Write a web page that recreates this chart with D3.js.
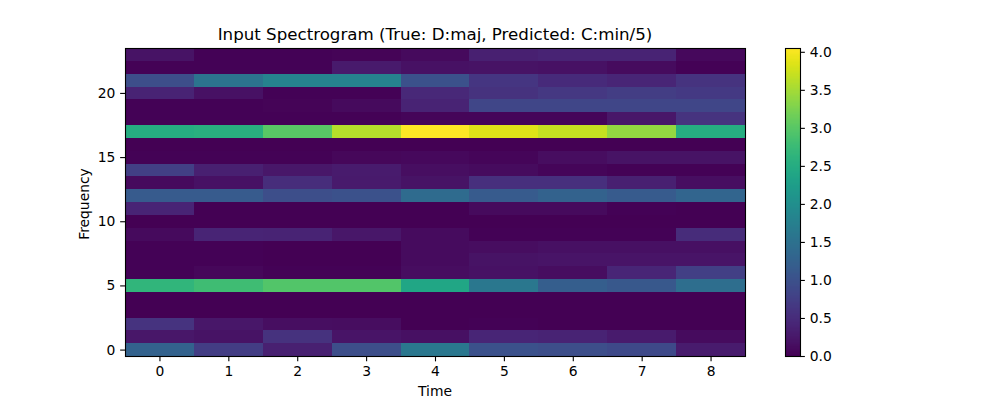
<!DOCTYPE html>
<meta charset="utf-8">
<script src="https://d3js.org/d3.v7.min.js"></script>
<style>
  html, body { margin: 0; padding: 0; background: #fff; }
  svg { display: block; }
  text { font-family: "DejaVu Sans", sans-serif; fill: #000; }
</style>
<div id="my_dataviz"></div>
<script>

    // time steps along the x axis, frequency bins 0..23
    const times = [0, 1, 2, 3, 4, 5, 6, 7, 8];
    const xTicks = [0, 1, 2, 3, 4, 5, 6, 7, 8];
    const yTicks = [0, 5, 10, 15, 20];
    const colorTicks = [0, 0.5, 1, 1.5, 2, 2.5, 3, 3.5, 4];
    const colorMax = 4.05;

    // one list per frequency bin
    const freq0 = [1.25, 0.72, 0.35, 0.95, 1.6, 1.0, 0.95, 0.9, 0.3];
    const freq1 = [0.25, 0.2, 0.58, 0.22, 0.17, 0.42, 0.38, 0.3, 0.12];
    const freq2 = [0.6, 0.25, 0.15, 0.14, 0.01, 0.02, 0.01, 0.01, 0.01];
    const freq3 = [0.01, 0.01, 0.01, 0.01, 0.01, 0.01, 0.01, 0.01, 0.01];
    const freq4 = [0.01, 0.01, 0.01, 0.01, 0.01, 0.01, 0.01, 0.01, 0.01];
    const freq5 = [2.65, 2.8, 2.95, 2.95, 2.4, 1.6, 1.2, 1.1, 1.45];
    const freq6 = [0.02, 0.07, 0.02, 0.03, 0.13, 0.18, 0.14, 0.42, 0.75];
    const freq7 = [0.02, 0.02, 0.01, 0.01, 0.12, 0.2, 0.22, 0.22, 0.22];
    const freq8 = [0.03, 0.02, 0.01, 0.01, 0.12, 0.14, 0.16, 0.16, 0.16];
    const freq9 = [0.1, 0.4, 0.38, 0.25, 0.12, 0.02, 0.02, 0.02, 0.5];
    const freq10 = [0.01, 0.01, 0.01, 0.01, 0.01, 0.01, 0.01, 0.01, 0.01];
    const freq11 = [0.4, 0.01, 0.01, 0.01, 0.01, 0.1, 0.1, 0.02, 0.01];
    const freq12 = [1.15, 1.15, 0.95, 1.0, 1.4, 1.15, 1.25, 1.15, 1.3];
    const freq13 = [0.1, 0.18, 0.52, 0.28, 0.2, 0.55, 0.55, 0.35, 0.15];
    const freq14 = [0.75, 0.35, 0.25, 0.3, 0.15, 0.12, 0.06, 0.03, 0.02];
    const freq15 = [0.02, 0.02, 0.03, 0.07, 0.08, 0.06, 0.14, 0.2, 0.2];
    const freq16 = [0.01, 0.01, 0.01, 0.01, 0.01, 0.01, 0.01, 0.01, 0.01];
    const freq17 = [2.5, 2.55, 3.0, 3.6, 4.05, 3.85, 3.7, 3.4, 2.5];
    const freq18 = [0.03, 0.03, 0.03, 0.03, 0.06, 0.05, 0.05, 0.25, 0.6];
    const freq19 = [0.03, 0.03, 0.04, 0.1, 0.38, 0.85, 0.85, 0.85, 0.85];
    const freq20 = [0.38, 0.18, 0.03, 0.02, 0.45, 0.58, 0.65, 0.72, 0.68];
    const freq21 = [0.95, 1.55, 1.8, 1.8, 1.0, 0.62, 0.48, 0.42, 0.6];
    const freq22 = [0.02, 0.02, 0.02, 0.28, 0.18, 0.2, 0.18, 0.12, 0.03];
    const freq23 = [0.2, 0.03, 0.02, 0.04, 0.1, 0.35, 0.38, 0.38, 0.08];
    const spectrogram = [freq0, freq1, freq2, freq3, freq4, freq5, freq6, freq7,
        freq8, freq9, freq10, freq11, freq12, freq13, freq14, freq15,
        freq16, freq17, freq18, freq19, freq20, freq21, freq22, freq23];

    // figure layout, in pixels of the 1000x400 picture
    const margin = { top: 48, right: 255, bottom: 44, left: 125 },
        width = 1000 - margin.left - margin.right,
        height = 400 - margin.top - margin.bottom;
    const barLeft = 785, barWidth = 15;
    const tickLen = 4.86, tickPad = 4.86, fontSize = 13.89;

    const svg = d3.select("#my_dataviz")
        .append("svg")
        .attr("width", 1000)
        .attr("height", 400);

    const g = svg.append("g")
        .attr("transform", `translate(${margin.left}, ${margin.top})`);

    // scales, cells are centred on their index
    const x = d3.scaleLinear().domain([-0.5, times.length - 0.5]).range([0, width]);
    const y = d3.scaleLinear().domain([-0.5, spectrogram.length - 0.5]).range([height, 0]);
    const color = d3.scaleSequential(d3.interpolateViridis).domain([0, colorMax]);

    // heatmap cells, snapped to whole pixels so no seams show between them
    const cells = spectrogram.flatMap((row, f) => row.map((v, t) => ({ f, t, v })));
    g.append("g")
        .attr("shape-rendering", "crispEdges")
        .selectAll("rect")
        .data(cells)
        .join("rect")
        .attr("x", d => Math.round(x(d.t - 0.5)))
        .attr("y", d => Math.round(y(d.f + 0.5)))
        .attr("width", d => Math.round(x(d.t + 0.5)) - Math.round(x(d.t - 0.5)))
        .attr("height", d => Math.round(y(d.f - 0.5)) - Math.round(y(d.f + 0.5)))
        .attr("fill", d => color(d.v));

    function styleAxis(sel) {
        sel.selectAll("text").style("font-size", fontSize + "px");
        sel.selectAll("line").attr("stroke", "#000").attr("stroke-width", 1.1);
        sel.select(".domain").remove();
    }

    g.append("g")
        .attr("transform", `translate(0, ${height + 0.5})`)
        .call(d3.axisBottom(x).tickValues(xTicks).tickFormat(d3.format("d"))
            .tickSize(tickLen).tickPadding(tickPad))
        .call(styleAxis);

    g.append("g")
        .call(d3.axisLeft(y).tickValues(yTicks).tickFormat(d3.format("d"))
            .tickSize(tickLen).tickPadding(tickPad))
        .call(styleAxis);

    // frame around the image, half a pixel in so the line stays sharp
    g.append("rect")
        .attr("x", 0.5)
        .attr("y", 0.5)
        .attr("width", width)
        .attr("height", height)
        .attr("fill", "none")
        .attr("stroke", "#000")
        .attr("stroke-width", 1.1);

    // title and axis labels
    svg.append("text")
        .attr("x", margin.left + width / 2)
        .attr("y", 40)
        .attr("text-anchor", "middle")
        .style("font-size", "16.67px")
        .text("Input Spectrogram (True: D:maj, Predicted: C:min/5)");

    svg.append("text")
        .attr("x", margin.left + width / 2)
        .attr("y", 396)
        .attr("text-anchor", "middle")
        .style("font-size", fontSize + "px")
        .text("Time");

    svg.append("text")
        .attr("transform", `translate(89, ${margin.top + height / 2 + 2}) rotate(-90)`)
        .attr("text-anchor", "middle")
        .style("font-size", fontSize + "px")
        .text("Frequency");

    // colorbar, drawn as whole-pixel bands
    const barScale = d3.scaleLinear().domain([0, colorMax]).range([height, 0]);
    const bar = svg.append("g")
        .attr("transform", `translate(${barLeft}, ${margin.top})`);

    const steps = d3.range(height);
    bar.append("g")
        .attr("shape-rendering", "crispEdges")
        .selectAll("rect")
        .data(steps)
        .join("rect")
        .attr("x", 0)
        .attr("y", d => d)
        .attr("width", barWidth)
        .attr("height", 1)
        .attr("fill", d => color(barScale.invert(d + 0.5)));

    bar.append("g")
        .attr("transform", `translate(${barWidth}, 0)`)
        .call(d3.axisRight(barScale).tickValues(colorTicks).tickFormat(d3.format(".1f"))
            .tickSize(tickLen).tickPadding(tickPad))
        .call(styleAxis);

    bar.append("rect")
        .attr("x", 0.5)
        .attr("y", 0.5)
        .attr("width", barWidth)
        .attr("height", height)
        .attr("fill", "none")
        .attr("stroke", "#000")
        .attr("stroke-width", 1.1);

</script>
